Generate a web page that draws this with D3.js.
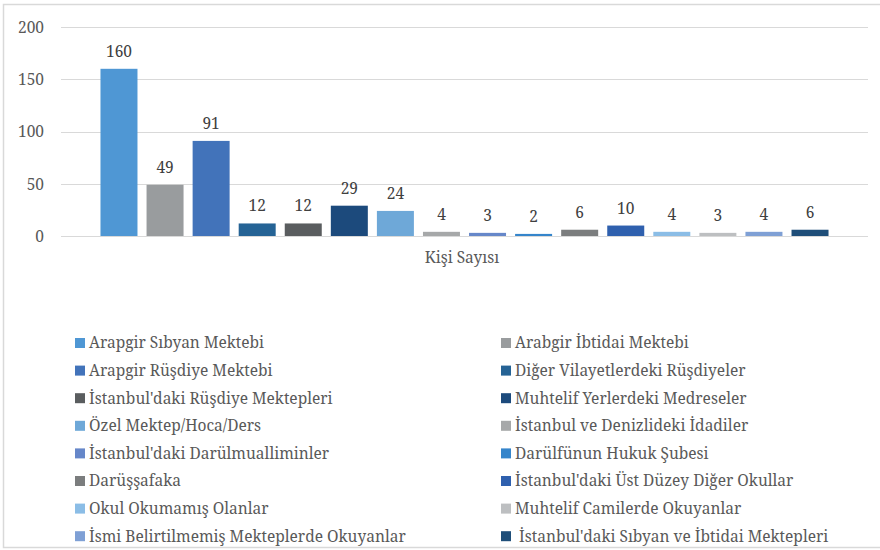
<!DOCTYPE html>
<html><head><meta charset="utf-8">
<script src="https://cdn.jsdelivr.net/npm/d3@7/dist/d3.min.js"></script>
<style>
html,body{margin:0;padding:0;background:#fff;}
svg text{white-space:pre;}
</style></head>
<body><svg id="chart" width="880" height="550" font-family="Noto Serif"></svg>
<script>
const categories = ["Arapgir Sıbyan Mektebi","Arabgir İbtidai Mektebi","Arapgir Rüşdiye Mektebi","Diğer Vilayetlerdeki Rüşdiyeler","İstanbul'daki Rüşdiye Mektepleri","Muhtelif Yerlerdeki Medreseler","Özel Mektep/Hoca/Ders","İstanbul ve Denizlideki İdadiler","İstanbul'daki Darülmualliminler","Darülfünun Hukuk Şubesi","Darüşşafaka","İstanbul'daki Üst Düzey Diğer Okullar","Okul Okumamış Olanlar","Muhtelif Camilerde Okuyanlar","İsmi Belirtilmemiş Mekteplerde Okuyanlar"," İstanbul'daki Sıbyan ve İbtidai Mektepleri"];
const values = [160,49,91,12,12,29,24,4,3,2,6,10,4,3,4,6];
const colors = ["#4f97d4","#999c9e","#4273ba","#256395","#5a5d5f","#1c4a7c","#6ea8d8","#a6a8a9","#6687c9","#3585cb","#7b7d7e","#2f60ae","#8bbde6","#bdbfc1","#7fa0d5","#1f4e79"];
const yTicks = [0,50,100,150,200];
const axisTitle = "Kişi Sayısı";

const FONT = "Noto Serif";
const svg = d3.select("#chart");
// outer border
svg.append("rect").attr("x",3.5).attr("y",4.5).attr("width",890).attr("height",543)
  .attr("fill","#fff").attr("stroke","#d9d9d9").attr("stroke-width",1.5);

const y = d3.scaleLinear().domain([0,200]).range([236,27]);
const x = d3.scaleBand().domain(d3.range(categories.length)).range([61,868]).paddingInner(0.197).paddingOuter(0.857);

// gridlines
svg.append("g").selectAll("line").data(yTicks).join("line")
  .attr("x1",61).attr("x2",868).attr("y1",d=>Math.round(y(d))+0.5).attr("y2",d=>Math.round(y(d))+0.5)
  .attr("stroke","#d9d9d9").attr("stroke-width",1.2);

// y axis labels
const yAxis = d3.axisLeft(y).tickValues(yTicks).tickSize(0).tickPadding(0);
const ya = svg.append("g").attr("transform","translate(44,0)").call(yAxis)
  .attr("font-family",FONT).attr("font-size",15.5);
ya.select(".domain").remove();
ya.selectAll("text").attr("fill","#595959").attr("dy","0.35em");

// bars
svg.append("g").selectAll("rect").data(values).join("rect")
  .attr("x",(d,i)=>x(i)).attr("width",x.bandwidth())
  .attr("y",d=>y(d)).attr("height",d=>y(0)-y(d))
  .attr("fill",(d,i)=>colors[i]);

// data labels
svg.append("g").selectAll("text").data(values).join("text")
  .attr("x",(d,i)=>x(i)+x.bandwidth()/2).attr("y",d=>y(d)-12)
  .attr("text-anchor","middle").attr("font-family",FONT).attr("font-size",15.5).attr("fill","#404040")
  .text(d=>d);

// axis title
svg.append("text").attr("x",462).attr("y",263).attr("text-anchor","middle")
  .attr("font-family",FONT).attr("font-size",15.5).attr("fill","#595959").text(axisTitle);

// legend
const lg = svg.append("g");
const rowY = i => 343 + Math.floor(i/2)*27.6;
const colX = i => (i%2===0) ? 75 : 501;
categories.forEach((c,i)=>{
  lg.append("rect").attr("x",colX(i)).attr("y",rowY(i)-5).attr("width",10).attr("height",10).attr("fill",colors[i]);
  lg.append("text").attr("x",colX(i)+14).attr("y",rowY(i)).attr("dy","0.35em")
    .attr("font-family",FONT).attr("font-size",15.5).attr("fill","#595959").text(c);
});
</script></body></html>
